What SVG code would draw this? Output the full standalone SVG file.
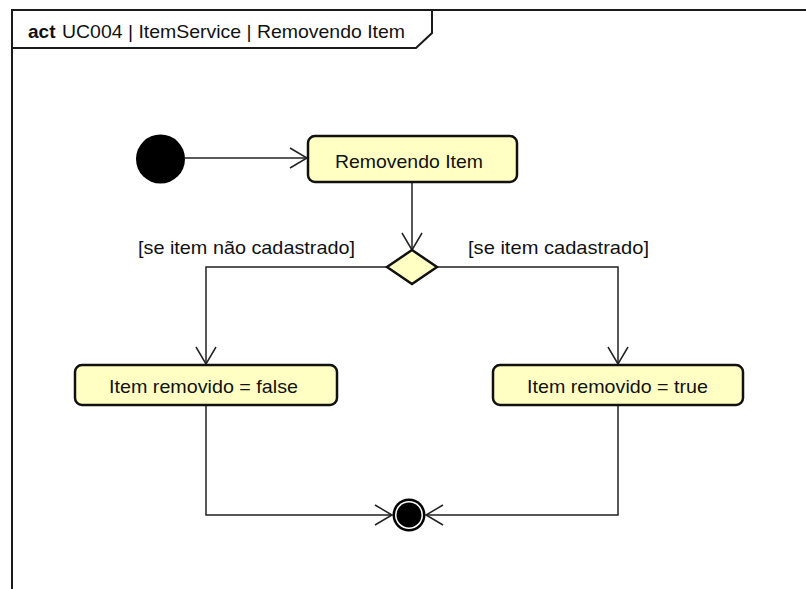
<svg xmlns="http://www.w3.org/2000/svg" width="806" height="589" viewBox="0 0 806 589">
<defs>
<style>
.frame{fill:none;stroke:#1a1a1a;stroke-width:2}
.act{fill:#FFFFC3;stroke:#111;stroke-width:2.5}
.edge{fill:none;stroke:#222;stroke-width:1.5}
.t{font-family:"Liberation Sans",Arial,sans-serif;font-size:19px;fill:#111}
.title{font-family:"Liberation Sans",Arial,sans-serif;font-size:19px;fill:#111}
</style>
<marker id="open" markerUnits="userSpaceOnUse" markerWidth="24" markerHeight="24" viewBox="-20 -12 22 24" refX="0" refY="0" orient="auto">
<path d="M -17 -10 L 0 0 L -17 10" fill="none" stroke="#222" stroke-width="1.5"/>
</marker>
</defs>
<rect width="806" height="589" fill="#fff"/>
<g id="frame">
<path class="frame" d="M 12 589 L 12 10 L 806 10"/>
<path class="frame" d="M 12 48 L 416 48 L 432 33 L 432 10"/>
<text class="title" x="28" y="38"><tspan font-weight="bold">act</tspan> <tspan x="62" textLength="343" lengthAdjust="spacingAndGlyphs">UC004 | ItemService | Removendo Item</tspan></text>
</g>
<g id="connectors">
<path class="edge" d="M 185 158 L 307 158" marker-end="url(#open)"/>
<path class="edge" d="M 412 182 L 412 250" marker-end="url(#open)"/>
<path class="edge" d="M 387 267 L 206 267 L 206 364" marker-end="url(#open)"/>
<path class="edge" d="M 437 267 L 618 267 L 618 364" marker-end="url(#open)"/>
<path class="edge" d="M 206 405 L 206 515 L 392 515" marker-end="url(#open)"/>
<path class="edge" d="M 618 405 L 618 515 L 426 515" marker-end="url(#open)"/>
<text class="t" x="138" y="254" textLength="217" lengthAdjust="spacingAndGlyphs">[se item não cadastrado]</text>
<text class="t" x="468" y="254" textLength="181" lengthAdjust="spacingAndGlyphs">[se item cadastrado]</text>
</g>
<g id="initial">
<circle cx="160.5" cy="159" r="24.5" fill="#000"/>
</g>
<g id="removendo">
<rect class="act" x="308" y="136" width="209" height="46" rx="7"/>
<text class="t" x="335" y="168" textLength="148" lengthAdjust="spacingAndGlyphs">Removendo Item</text>
</g>
<g id="decision">
<polygon class="act" points="412,250 437,267 412,284 387,267"/>
</g>
<g id="false">
<rect class="act" x="75" y="365" width="262" height="40" rx="7"/>
<text class="t" x="109" y="393" textLength="189" lengthAdjust="spacingAndGlyphs">Item removido = false</text>
</g>
<g id="true">
<rect class="act" x="493" y="365" width="250" height="40" rx="7"/>
<text class="t" x="527" y="393" textLength="181" lengthAdjust="spacingAndGlyphs">Item removido = true</text>
</g>
<g id="final">
<circle cx="409" cy="515" r="16.5" fill="#000"/>
<circle cx="409" cy="515" r="14" fill="#fff"/>
<circle cx="409" cy="515" r="12.5" fill="#000"/>
</g>
</svg>
